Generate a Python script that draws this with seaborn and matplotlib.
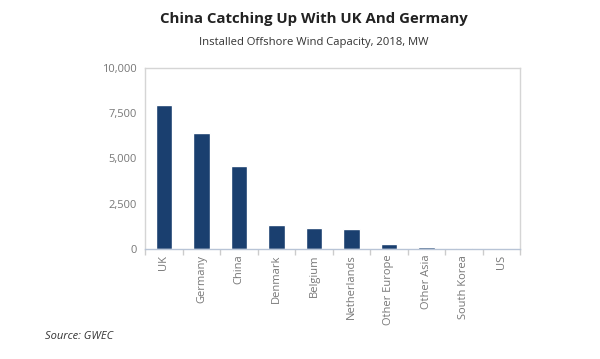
import matplotlib
matplotlib.use("Agg")
import matplotlib.pyplot as plt
import seaborn as sns
import pandas as pd
from matplotlib.ticker import FuncFormatter, FixedLocator

countries = ["UK", "Germany", "China", "Denmark", "Belgium", "Netherlands",
             "Other Europe", "Other Asia", "South Korea", "US"]
capacity_mw = [7963, 6380, 4588, 1329, 1186, 1118, 260, 110, 73, 30]
y_ticks = [0, 2500, 5000, 7500, 10000]

df = pd.DataFrame({"Country": countries, "MW": capacity_mw})

sns.set_theme(style="white")
plt.rcParams["font.family"] = ["Open Sans", "DejaVu Sans"]

fig = plt.figure(figsize=(6, 3.59), dpi=100)
ax = fig.add_axes([0.242, 0.306, 0.625, 0.505])

sns.barplot(data=df, x="Country", y="MW", color="#1a3f6f", width=0.45,
            saturation=1, ax=ax)

ax.set_xlim(-0.5, len(countries) - 0.5)
ax.set_ylim(0, 10000)
ax.set_yticks(y_ticks)
ax.yaxis.set_major_formatter(FuncFormatter(lambda v, p: f"{int(v):,}"))
ax.set_xlabel("")
ax.set_ylabel("")

ax.set_xticks(range(len(countries)))
ax.set_xticklabels(countries, rotation=90, fontsize=8, color="#777777")
ax.tick_params(axis="x", which="major", length=0, pad=4)
ax.xaxis.set_minor_locator(FixedLocator([i - 0.5 for i in range(len(countries) + 1)]))
ax.tick_params(axis="x", which="minor", length=4, color="#cccccc", bottom=True)
ax.tick_params(axis="y", length=0, labelsize=8, labelcolor="#777777", pad=6)

for s in ax.spines.values():
    s.set_color("#d5d5d5")
    s.set_linewidth(1)
ax.spines["bottom"].set_color("#b8c4d6")

fig.text(0.523, 0.935, "China Catching Up With UK And Germany", ha="center",
         fontsize=10.8, fontweight="bold", color="#222222")
fig.text(0.523, 0.875, "Installed Offshore Wind Capacity, 2018, MW", ha="center",
         fontsize=8.1, color="#333333")
fig.text(0.075, 0.055, "Source: GWEC", ha="left", fontsize=8,
         style="italic", color="#333333")

fig.savefig("out.png", dpi=100, facecolor="white")
